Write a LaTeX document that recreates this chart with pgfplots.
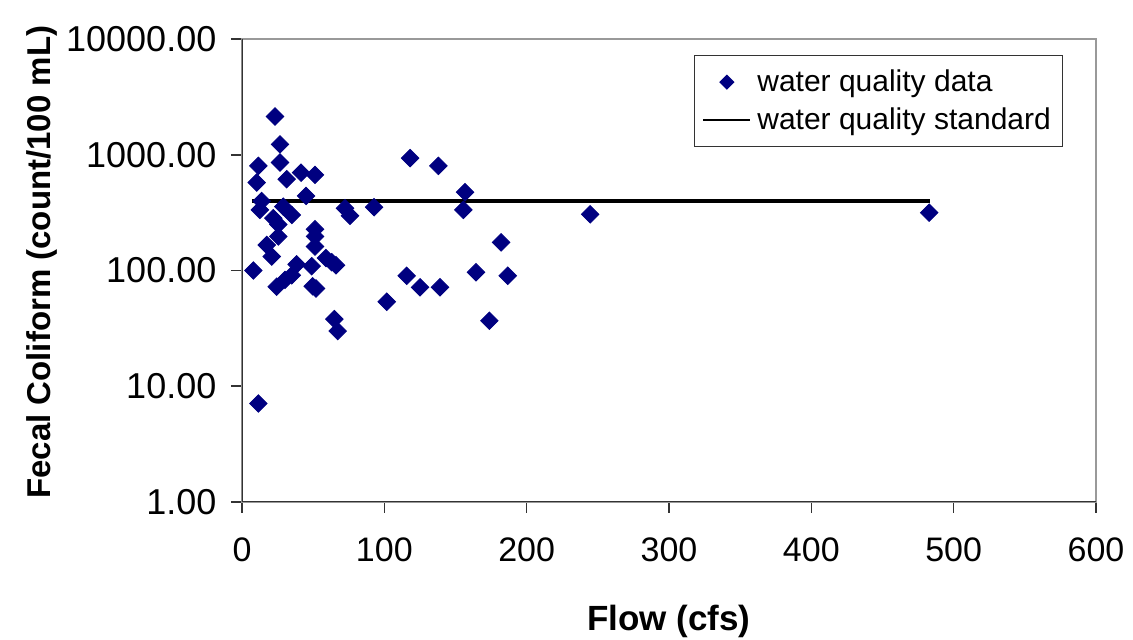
\documentclass[border=0pt]{standalone}
\usepackage{fontspec}
\setmainfont{Liberation Sans}
\usepackage{pgfplots}
\pgfplotsset{compat=1.18}
\definecolor{navy}{RGB}{0,0,128}
\pgfplotsset{
    dotlegend/.style={legend image code/.code={%
        \path[draw=none] (0pt,0pt) -- (25pt,0pt);
        \draw[##1, mark size=2.4pt] plot coordinates {(11.75pt,0pt)};}},
    linelegend/.style={legend image code/.code={%
        \path[draw=none] (0pt,0pt) -- (25pt,0pt);
        \draw[##1, line width=1pt] (0pt,0pt) -- (23.5pt,0pt);}},
}

\begin{document}
\begin{tikzpicture}
\begin{axis}[
    scale only axis,
    width=427pt, height=231.5pt,
    xmin=0, xmax=600,
    ymode=log, ymin=1, ymax=10000,
    xtick={0,100,...,600},
    ytick={1,10,100,1000,10000},
    yticklabels={1.00,10.00,100.00,1000.00,10000.00},
    yminorticks=false,
    /pgf/number format/assume math mode=true,
    xticklabel style={font=\fontsize{17}{20}\selectfont, yshift=-9pt},
    yticklabel style={font=\fontsize{18}{22}\selectfont, xshift=-3.8pt},
    tick align=outside,
    tick pos=left,
    major tick length=5.5pt,
    tick style={black!80, line width=0.8pt},
    axis line style={gray!80, line width=0.8pt},
    xlabel={Flow (cfs)},
    ylabel={Fecal Coliform (count/100 mL)},
    xlabel style={font=\bfseries\fontsize{17.5}{20}\selectfont,
        at={(axis description cs:0.5,-0.2765)}, anchor=base},
    ylabel style={font=\bfseries\fontsize{16.5}{20}\selectfont,
        at={(axis description cs:-0.2248,0.518)}, anchor=base},
    legend style={at={(rel axis cs:0.529,0.965)}, anchor=north west,
        draw=black!80, line width=0.6pt,
        font=\fontsize{15}{18}\selectfont,
        inner xsep=4pt, inner ysep=5pt, row sep=2.5pt},
    legend cell align=left,
]
\addplot[only marks, mark=square*, mark size=3.1pt,
    mark options={rotate=45, fill=navy, draw=navy}, dotlegend]
coordinates {
(8,100) (10.3,575) (11.5,802) (11.5,7.1) (12.6,334) (13.8,398)
(17.4,166) (20.9,132) (22.0,283) (23.2,2140) (24.4,72.5) (25.5,250)
(25.5,197) (26.7,1230) (26.7,857) (29,356) (30.2,83) (31.4,615)
(35,302) (35,91) (38.4,113) (41.5,700) (45,441) (49,109)
(49.7,73) (52,70) (51.3,670) (51.3,227) (51.3,197) (51.3,161)
(59,128) (63,118) (66,111) (64.9,38) (67.2,30) (72.4,345)
(75.9,297) (92.8,352) (101.7,53.7) (115.7,90) (118.1,935) (125.1,71.6)
(138,802) (139.1,71.6) (155.5,334) (156.7,475) (164.4,96.5) (173.8,36.8)
(182,175) (186.7,90) (244.6,306) (482.8,316)
};
\addlegendentry{water quality data}
\addplot[black, line width=2pt, linelegend]
coordinates {(7,400) (483.5,400)};
\addlegendentry{water quality standard}
\draw[black!80, line width=0.8pt] (rel axis cs:0,1) -- (rel axis cs:0,0) -- (rel axis cs:1,0);
\end{axis}
\pgfresetboundingbox
\useasboundingbox (-121pt,-69pt) rectangle (445.5pt,251pt);
\end{tikzpicture}
\end{document}
